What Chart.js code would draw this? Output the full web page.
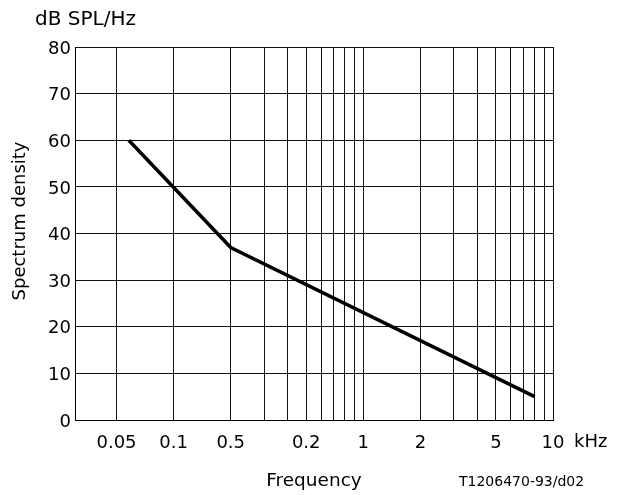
<!DOCTYPE html>
<html>
<head>
<meta charset="utf-8">
<script src="https://cdn.jsdelivr.net/npm/chart.js@4/dist/chart.umd.min.js"></script>
<style>
  html, body { margin: 0; padding: 0; background: #fff; }
</style>
</head>
<body>
<canvas id="myChart" width="621" height="495"></canvas>
<script>
// curve, frequency in kHz and level in dB SPL/Hz
const freqKHz = [0.058, 0.2, 8];
const levelDb = [60, 37, 5];

// vertical grid lines (kHz)
const gridFreqs = [0.05, 0.1, 0.2, 0.3, 0.4, 0.5, 0.6, 0.7, 0.8, 0.9,
                   1, 2, 3, 4, 5, 6, 7, 8, 9, 10];
// labelled ticks, text as printed on the figure
const tickValues = [0.05, 0.1, 0.2, 0.5, 1, 2, 5, 10];
const tickText = ['0.05', '0.1', '0.5', '0.2', '1', '2', '5', '10'];

const FONT = "'DejaVu Sans', sans-serif";

// extra texts drawn around the plot
const extraText = {
    id: 'extraText',
    afterDraw(chart) {
        const ctx = chart.ctx;
        ctx.save();
        ctx.fillStyle = '#000';
        ctx.textBaseline = 'alphabetic';
        ctx.textAlign = 'left';

        ctx.font = '20px ' + FONT;
        ctx.fillText('dB SPL/Hz', 35, 25);

        ctx.font = '18px ' + FONT;
        ctx.fillText('kHz', 574, 447);

        ctx.font = '14px ' + FONT;
        ctx.fillText('T1206470-93/d02', 459, 486);

        ctx.translate(25, 221);
        ctx.rotate(-Math.PI / 2);
        ctx.font = '18px ' + FONT;
        ctx.textAlign = 'center';
        ctx.fillText('Spectrum density', 0, 0);
        ctx.restore();
    }
};

const ctx = document.getElementById('myChart').getContext('2d');
new Chart(ctx, {
    type: 'line',
    data: {
        datasets: [{
            data: freqKHz.map((f, i) => ({ x: f, y: levelDb[i] })),
            borderColor: '#000',
            borderWidth: 3.5,
            pointRadius: 0,
            fill: false,
            tension: 0
        }]
    },
    options: {
        responsive: false,
        animation: false,
        layout: { padding: { left: 0, top: 47, right: 68, bottom: 0 } },
        plugins: {
            legend: { display: false },
            tooltip: { enabled: false }
        },
        scales: {
            x: {
                type: 'logarithmic',
                min: 0.0302,
                max: 10,
                afterFit: s => { s.height = 75; },
                afterBuildTicks: s => { s.ticks = gridFreqs.map(v => ({ value: v })); },
                grid: { color: '#111', lineWidth: 1, drawTicks: false },
                border: { display: true, color: '#000', width: 1 },
                ticks: {
                    autoSkip: false,
                    maxRotation: 0,
                    padding: 13,
                    color: '#000',
                    font: { family: FONT, size: 18 },
                    callback: value => {
                        const i = tickValues.findIndex(t => Math.abs(t - value) < 1e-9);
                        return i >= 0 ? tickText[i] : '';
                    }
                },
                title: {
                    display: true,
                    text: 'Frequency',
                    color: '#000',
                    font: { family: FONT, size: 18.5 },
                    padding: { top: 4, bottom: 3 }
                }
            },
            y: {
                min: 0,
                max: 80,
                afterFit: s => { s.width = 75; },
                grid: { color: '#111', lineWidth: 1, drawTicks: false },
                border: { display: true, color: '#000', width: 1 },
                ticks: {
                    stepSize: 10,
                    padding: 4,
                    labelOffset: 2,
                    color: '#000',
                    font: { family: FONT, size: 18 }
                }
            }
        }
    },
    plugins: [extraText]
});
</script>
</body>
</html>
